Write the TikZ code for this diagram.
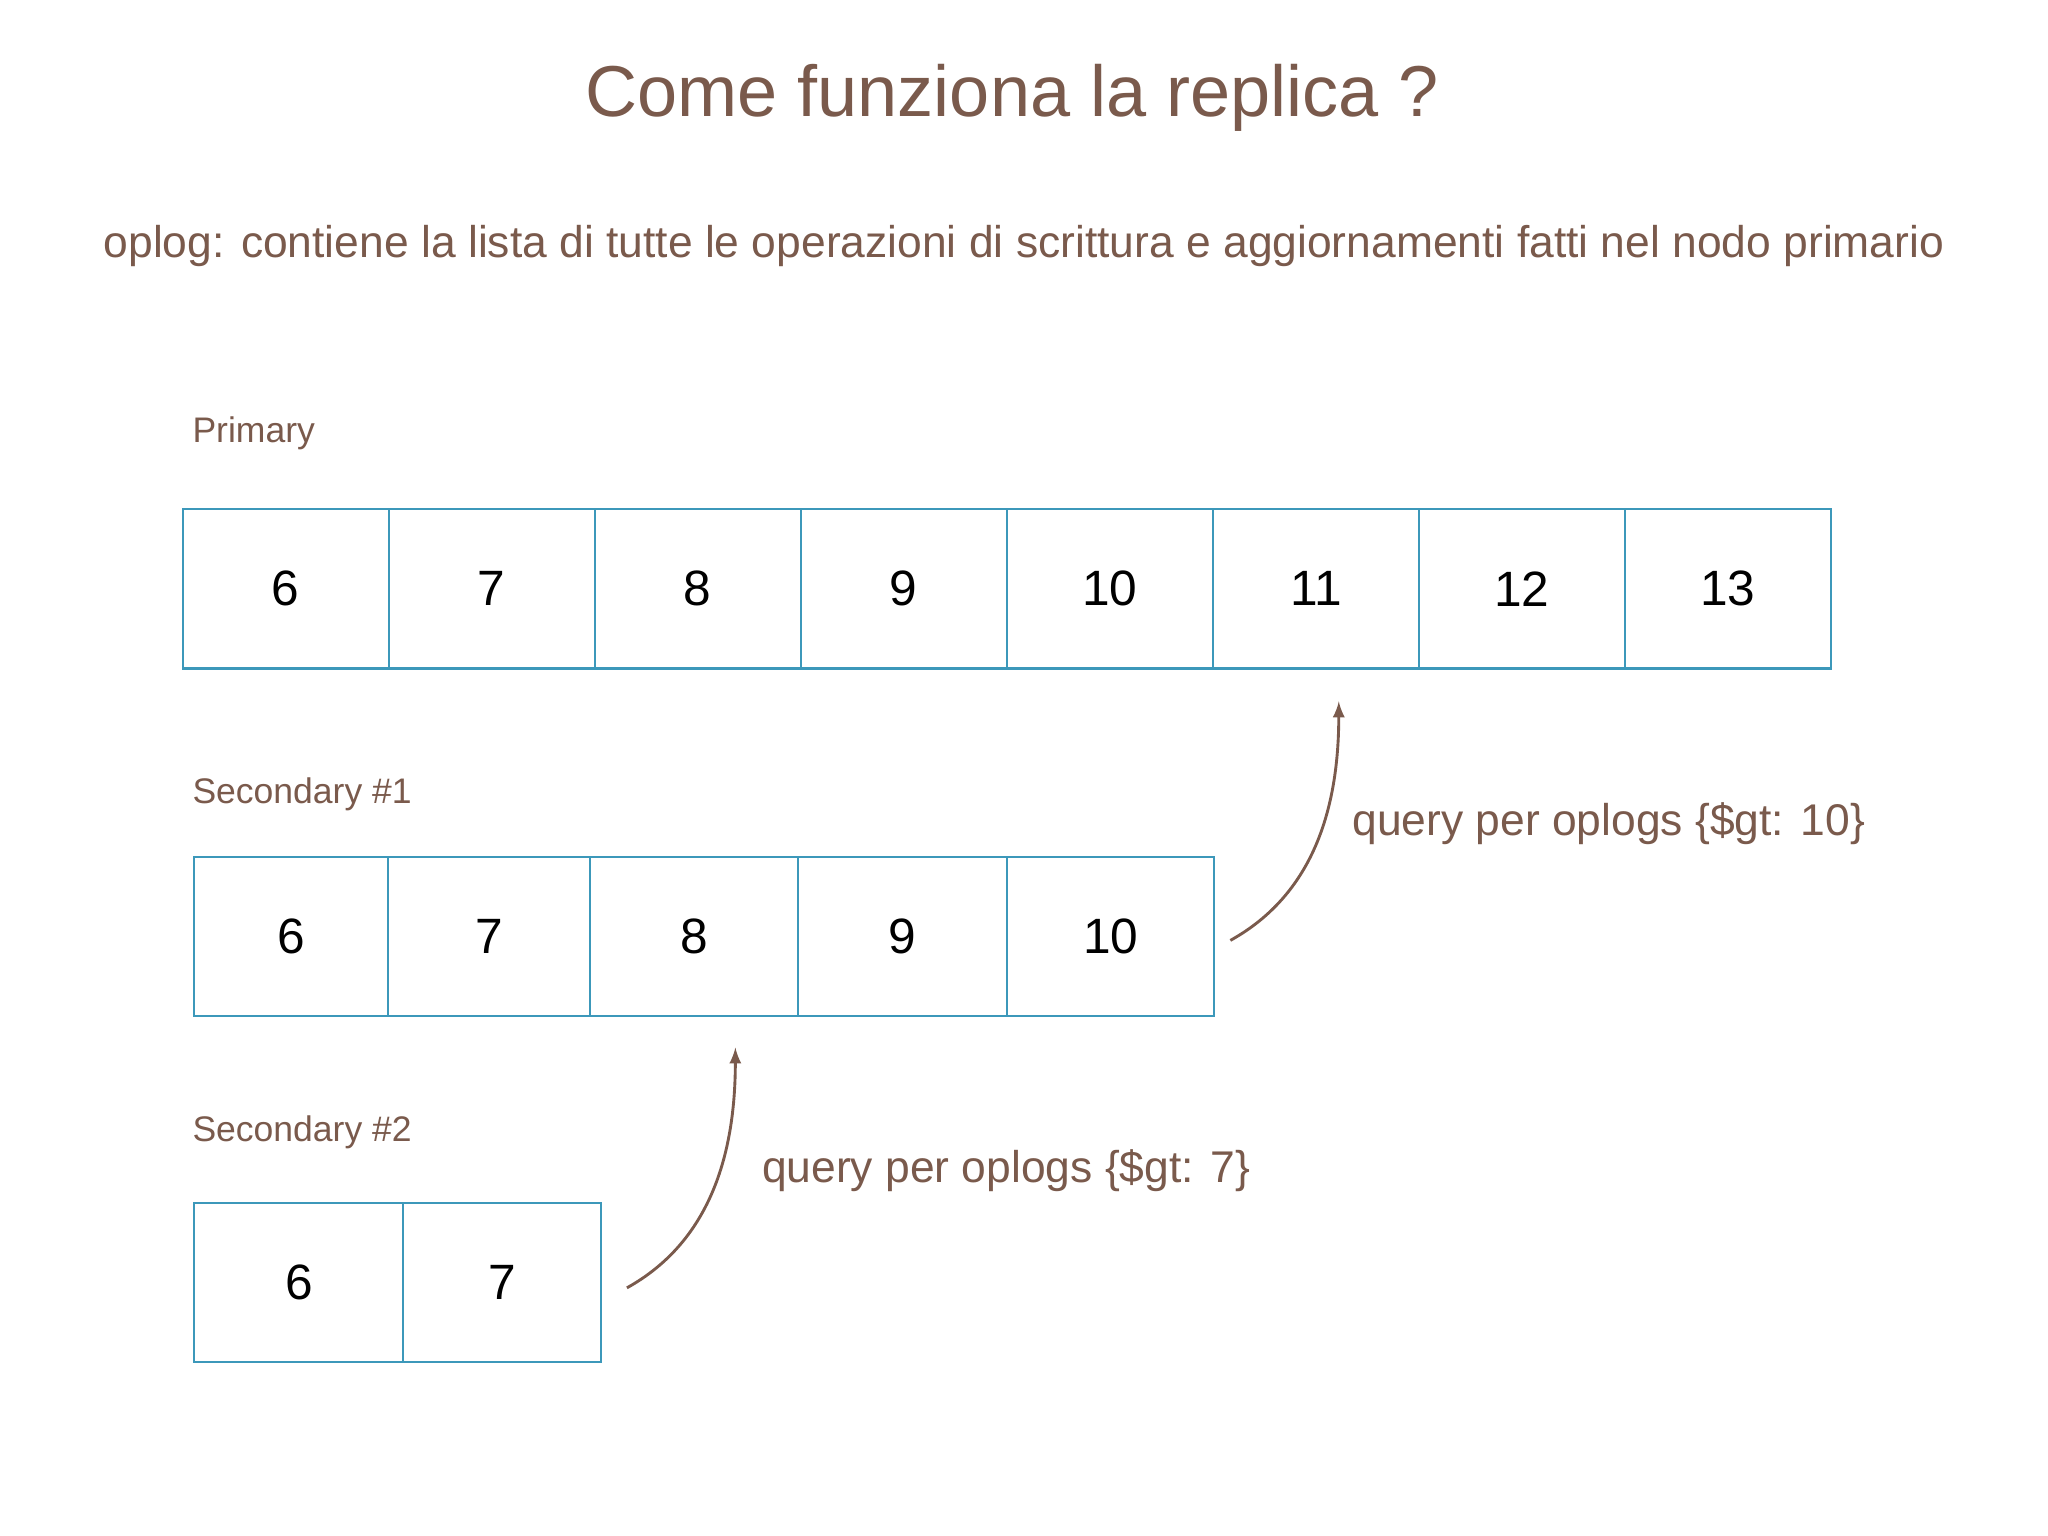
\documentclass[tikz,border=0pt]{standalone}
\usepackage{fontspec}
\setmainfont{Liberation Sans}
\definecolor{brn}{HTML}{7A5A4C}
\definecolor{bx}{HTML}{3C98BA}
\begin{document}
\begin{tikzpicture}[x=0.5pt,y=-0.5pt,
  cell/.style={draw=bx,line width=0.8pt,minimum height=61pt,inner sep=0pt,font=\fontsize{19}{22}\selectfont,anchor=north west},
  lbl/.style={text=brn,anchor=west,inner sep=0pt},
  conn/.style={draw=brn,line width=1.1pt,-latex}]
\useasboundingbox[fill=white] (0,0) rectangle (1568,1176);
\node[text=brn,font=\fontsize{27.6}{30}\selectfont] (title) at (775,75) {Come funziona la replica ?};
\node[text=brn,font=\fontsize{17}{20}\selectfont] (sub) at (784,188) {oplog: contiene la lista di tutte le operazioni di scrittura e aggiornamenti fatti nel nodo primario};
\node[lbl,font=\fontsize{13.6}{15}\selectfont] (lp) at (147,332) {Primary};
\node[lbl,font=\fontsize{13.6}{15}\selectfont] (l1) at (147,608) {Secondary \#1};
\node[lbl,font=\fontsize{13.6}{15}\selectfont] (l2) at (147,867) {Secondary \#2};
\foreach \v [count=\i from 0] in {6,...,13}
  \node[cell,minimum width=78.875pt] (p\v) at ({139+\i*157.75},389) {\v};
\node[cell,minimum width=74pt] (s6) at (148,655) {6};
\node[cell,minimum width=77.5pt] (s7) at (296,655) {7};
\node[cell,minimum width=79.5pt] (s8) at (451,655) {8};
\node[cell,minimum width=80pt] (s9) at (610,655) {9};
\node[cell,minimum width=79.5pt] (s10) at (770,655) {10};
\node[cell,minimum width=80pt] (t6) at (148,920) {6};
\node[cell,minimum width=75.5pt] (t7) at (308,920) {7};
\coordinate (a1s) at (942,720); \coordinate (a1e) at (1025,537);
\coordinate (a2s) at (480,986); \coordinate (a2e) at (563,802);
\draw[conn] (a1s) .. controls (1005,685) and (1025,620) .. (a1e);
\draw[conn] (a2s) .. controls (543,951) and (563,885) .. (a2e);
\node[lbl,font=\fontsize{17}{20}\selectfont] (q1) at (1035,631) {query per oplogs \{\$gt: 10\}};
\node[lbl,font=\fontsize{17}{20}\selectfont] (q2) at (583,896) {query per oplogs \{\$gt: 7\}};
\end{tikzpicture}
\end{document}
